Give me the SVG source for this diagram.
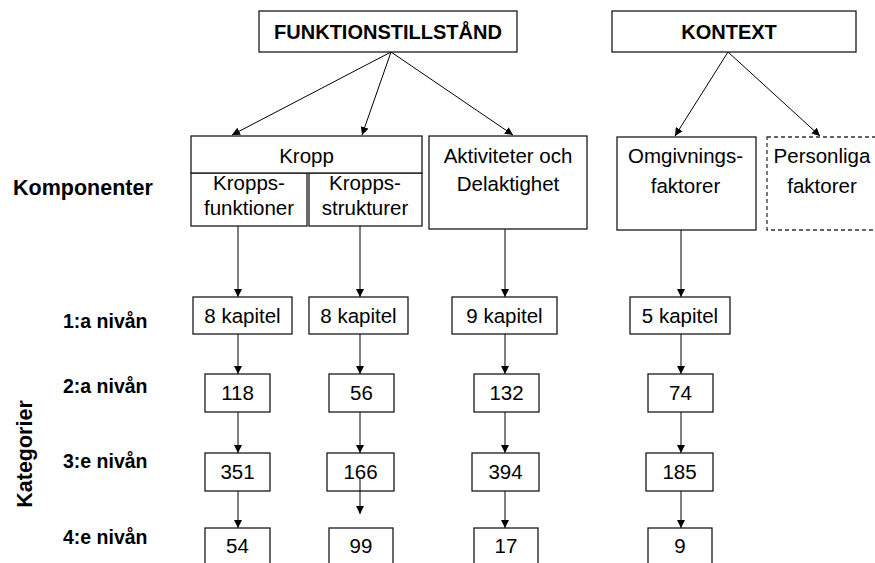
<svg xmlns="http://www.w3.org/2000/svg" width="875" height="563" viewBox="0 0 875 563">
<defs>
<style>
.box{fill:#fff;stroke:#1a1a1a;stroke-width:1.3}
.dash{fill:#fff;stroke:#333;stroke-width:1.3;stroke-dasharray:4 3}
.t{font-family:"Liberation Sans",Arial,sans-serif;font-size:20.5px;fill:#000;text-anchor:middle}
.b{font-family:"Liberation Sans",Arial,sans-serif;font-weight:bold;fill:#000}
.ln{stroke:#000;stroke-width:1;fill:none;marker-end:url(#ah)}
</style>
<marker id="ah" markerWidth="8" markerHeight="8" refX="8" refY="4" orient="auto" markerUnits="userSpaceOnUse">
<path d="M0,0 L8,4 L0,8 z" fill="#000"/>
</marker>
</defs>
<rect width="875" height="563" fill="#fff"/>

<g id="connectors">
<line class="ln" x1="391" y1="52" x2="232" y2="135"/>
<line class="ln" x1="391" y1="52" x2="362" y2="135"/>
<line class="ln" x1="391" y1="52" x2="513" y2="135"/>
<line class="ln" x1="728" y1="52" x2="675" y2="136"/>
<line class="ln" x1="728" y1="52" x2="820" y2="136"/>
<line class="ln" x1="238" y1="226" x2="238" y2="297"/>
<line class="ln" x1="238" y1="334" x2="238" y2="374"/>
<line class="ln" x1="238" y1="412" x2="238" y2="453"/>
<line class="ln" x1="238" y1="491" x2="238" y2="528"/>
<line class="ln" x1="360" y1="226" x2="360" y2="297"/>
<line class="ln" x1="360" y1="334" x2="360" y2="374"/>
<line class="ln" x1="360" y1="412" x2="360" y2="453"/>
<line class="ln" x1="505" y1="229" x2="505" y2="297"/>
<line class="ln" x1="505" y1="334" x2="505" y2="374"/>
<line class="ln" x1="505" y1="412" x2="505" y2="453"/>
<line class="ln" x1="505" y1="491" x2="505" y2="528"/>
<line class="ln" x1="681" y1="230" x2="681" y2="297"/>
<line class="ln" x1="681" y1="334" x2="681" y2="374"/>
<line class="ln" x1="681" y1="412" x2="681" y2="453"/>
<line class="ln" x1="681" y1="491" x2="681" y2="528"/>
</g>

<g id="funktionstillstand"><rect class="box" x="259" y="11" width="258" height="41"/><text class="b" x="388" y="39" font-size="20" text-anchor="middle">FUNKTIONSTILLSTÅND</text></g>
<g id="kontext"><rect class="box" x="612" y="11" width="244" height="41"/><text class="b" x="729" y="39" font-size="20" text-anchor="middle">KONTEXT</text></g>

<g id="kroppsfunktioner"><rect class="box" x="191" y="173" width="116" height="53"/><text class="t" x="249" y="190">Kropps-</text><text class="t" x="249" y="215">funktioner</text></g>
<g id="kroppsstrukturer"><rect class="box" x="309" y="173" width="113" height="53"/><text class="t" x="365" y="190">Kropps-</text><text class="t" x="365" y="215">strukturer</text></g>
<g id="kropp"><rect class="box" x="191" y="136" width="231" height="37"/><text class="t" x="306.5" y="163">Kropp</text></g>
<g id="aktiviteter"><rect class="box" x="429" y="136" width="158" height="93"/><text class="t" x="508" y="163">Aktiviteter och</text><text class="t" x="508" y="191">Delaktighet</text></g>
<g id="omgivning"><rect class="box" x="617" y="137" width="139" height="93"/><text class="t" x="685.5" y="163">Omgivnings-</text><text class="t" x="685.5" y="193">faktorer</text></g>
<g id="personliga"><rect class="dash" x="767" y="137" width="115" height="93"/><text class="t" x="822" y="163">Personliga</text><text class="t" x="822" y="193">faktorer</text></g>

<g id="l1a"><rect class="box" x="193" y="297" width="99" height="37"/><text class="t" x="242.5" y="323">8 kapitel</text></g>
<g id="l1b"><rect class="box" x="309" y="297" width="99" height="37"/><text class="t" x="358.5" y="323">8 kapitel</text></g>
<g id="l1c"><rect class="box" x="452" y="297" width="105" height="37"/><text class="t" x="504.5" y="323">9 kapitel</text></g>
<g id="l1d"><rect class="box" x="630" y="297" width="100" height="37"/><text class="t" x="680" y="323">5 kapitel</text></g>

<g id="l2a"><rect class="box" x="205" y="374" width="65" height="38"/><text class="t" x="237.5" y="400">118</text></g>
<g id="l2b"><rect class="box" x="329" y="374" width="65" height="38"/><text class="t" x="361.5" y="400">56</text></g>
<g id="l2c"><rect class="box" x="474" y="374" width="65" height="38"/><text class="t" x="506.5" y="400">132</text></g>
<g id="l2d"><rect class="box" x="648" y="374" width="65" height="38"/><text class="t" x="680.5" y="400">74</text></g>

<g id="l3a"><rect class="box" x="205" y="453" width="65" height="38"/><text class="t" x="237.5" y="479">351</text></g>
<g id="l3b"><rect class="box" x="327" y="453" width="67" height="38"/><text class="t" x="360.5" y="479">166</text></g>
<g id="l3c"><rect class="box" x="472" y="453" width="67" height="38"/><text class="t" x="505.5" y="479">394</text></g>
<g id="l3d"><rect class="box" x="646" y="453" width="67" height="38"/><text class="t" x="679.5" y="479">185</text></g>

<line class="ln" x1="360" y1="478" x2="360" y2="514"/>

<g id="l4a"><rect class="box" x="205" y="528" width="65" height="45"/><text class="t" x="237.5" y="553">54</text></g>
<g id="l4b"><rect class="box" x="329" y="528" width="64" height="45"/><text class="t" x="361" y="553">99</text></g>
<g id="l4c"><rect class="box" x="474" y="528" width="64" height="45"/><text class="t" x="506" y="553">17</text></g>
<g id="l4d"><rect class="box" x="648" y="528" width="64" height="45"/><text class="t" x="680" y="553">9</text></g>

<g id="labels">
<text class="b" x="13" y="195" font-size="21.5">Komponenter</text>
<text class="b" x="63" y="328" font-size="19.5">1:a nivån</text>
<text class="b" x="63" y="393" font-size="19.5">2:a nivån</text>
<text class="b" x="63" y="468" font-size="19.5">3:e nivån</text>
<text class="b" x="63" y="544" font-size="19.5">4:e nivån</text>
<text class="b" font-size="21.5" text-anchor="middle" transform="translate(32,454) rotate(-90)">Kategorier</text>
</g>
</svg>
